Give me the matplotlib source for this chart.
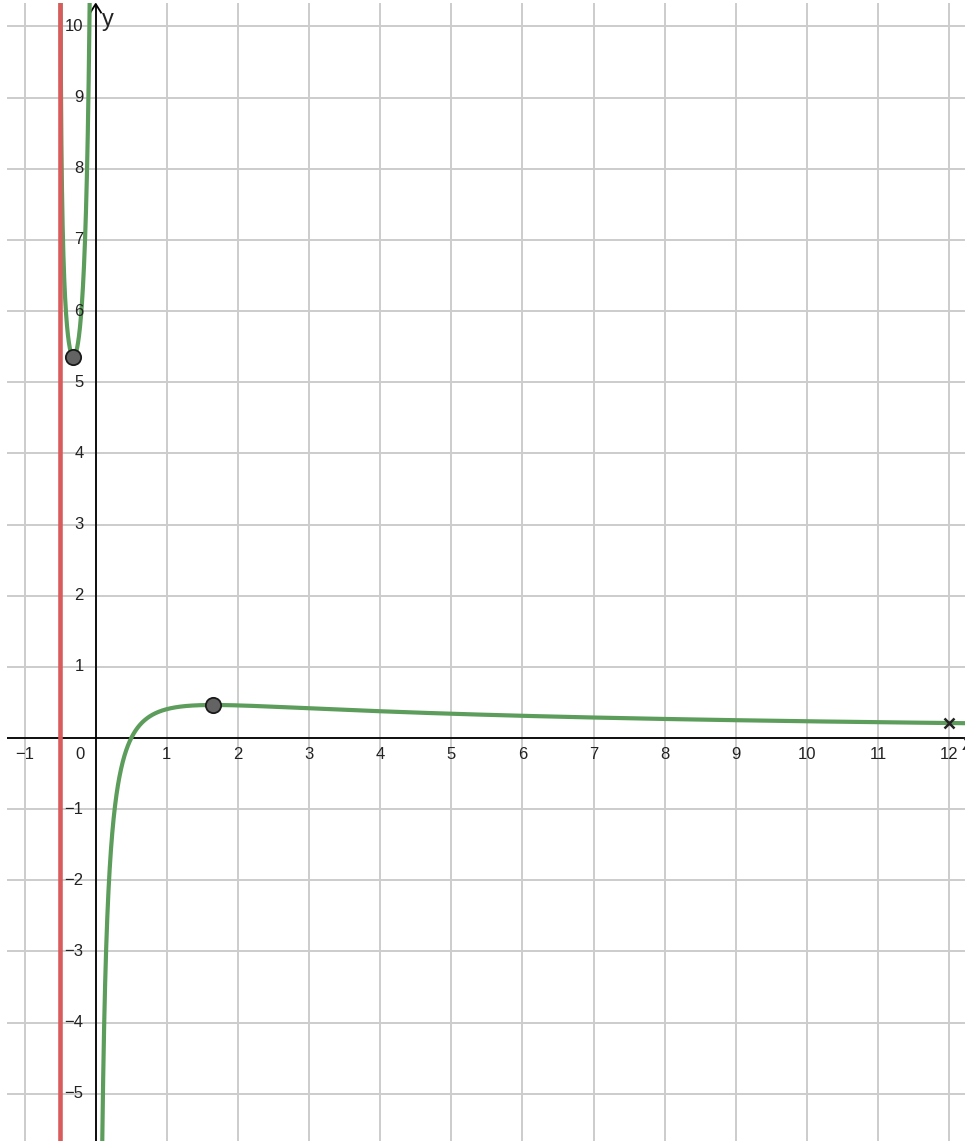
import numpy as np
import matplotlib
matplotlib.use("Agg")
import matplotlib.pyplot as plt

# ---- data -------------------------------------------------------------
x_ticks = list(range(-1, 13))                    # vertical grid / x labels
y_ticks = list(range(-5, 11))                    # horizontal grid / y labels
x_tick_labels = ["\u22121", "0"] + [str(v) for v in range(1, 13)]
y_tick_labels = ["\u22125", "\u22124", "\u22123", "\u22122", "\u22121", "",
                 "1", "2", "3", "4", "5", "6", "7", "8", "9", "10"]

asymptote_x = -0.5                               # red vertical line x = -1/2
extrema_x = [-0.313, 1.653]                      # local min / local max
extrema_y = [5.36, 0.464]
end_point = (12.0, 0.21)                         # point on the graph at x = 12


def f(x):
    """f(x) = ln(x + 1/2) / x"""
    return np.log(x - asymptote_x) / x


# ---- figure -----------------------------------------------------------
W, H, DPI = 965, 1141, 100
fig = plt.figure(figsize=(W / DPI, H / DPI), dpi=DPI)
fig.patch.set_facecolor("white")
ax = fig.add_axes([7 / W, 0, (W - 7) / W, (H - 3) / H])
ax.set_xlim(-1.247, 12.221)
ax.set_ylim(-5.664, 10.33)
for s in ax.spines.values():
    s.set_visible(False)

ax.set_xticks(x_ticks)
ax.set_yticks(y_ticks)
ax.tick_params(length=0, labelbottom=False, labelleft=False)
ax.grid(True, color="#cccccc", linewidth=1.4, zorder=0)
ax.set_axisbelow(True)

FONT = ["Liberation Sans", "DejaVu Sans"]

# coordinate axes
ax.axhline(0, color="black", linewidth=1.3, zorder=2)
y_tip = 10.316
ax.plot([0, 0], [-6, y_tip], color="black", linewidth=1.3, zorder=2,
        solid_capstyle="butt")
ax.plot([-0.075, 0, 0.075], [y_tip - 0.12, y_tip, y_tip - 0.12],
        color="black", linewidth=1.3, zorder=2)

# graph of f, two branches
xl = np.concatenate([np.linspace(-0.49999, -0.45, 3000),
                     np.linspace(-0.45, -0.0005, 3000)])
xr = np.concatenate([np.linspace(0.0005, 0.3, 3000),
                     np.linspace(0.3, 12.4, 3000)])
green = "#5c9d5c"
ax.plot(xl, f(xl), color=green, linewidth=3.0, zorder=3)
ax.plot(xr, f(xr), color=green, linewidth=3.0, zorder=3)

# vertical asymptote
ax.axvline(asymptote_x, color="#d95c5c", linewidth=3.3, zorder=4)

# extrema and end point
ax.plot(extrema_x, extrema_y, linestyle="none", marker="o", markersize=11,
        markerfacecolor="#636363", markeredgecolor="#1a1a1a",
        markeredgewidth=1.3, zorder=6)
ax.plot([end_point[0]], [end_point[1]], linestyle="none", marker="x",
        markersize=7, markeredgewidth=1.8, color="#222222", zorder=6)

# tick labels along the axes
for xv, lab in zip(x_ticks, x_tick_labels):
    dx = -16 if xv == 0 else 0
    ax.annotate(lab, (xv, 0), xytext=(dx, -17), textcoords="offset pixels",
                ha="center", va="center", fontsize=12, family=FONT,
                color="#222222", zorder=7)
for yv, lab in zip(y_ticks, y_tick_labels):
    if not lab:
        continue
    ax.annotate(lab, (0, yv), xytext=(-12, 0), textcoords="offset pixels",
                ha="right", va="center", fontsize=12, family=FONT,
                color="#222222", zorder=7)

# axis names
ax.annotate("y", (0, 10.09), xytext=(6, 0), textcoords="offset pixels",
            ha="left", va="center", fontsize=17, family=FONT, color="#222222")
ax.annotate("x", (12.18, -0.08), ha="left", va="center", fontsize=17,
            family=FONT, color="#222222", annotation_clip=False)

fig.savefig("out.png", dpi=DPI, facecolor="white")
